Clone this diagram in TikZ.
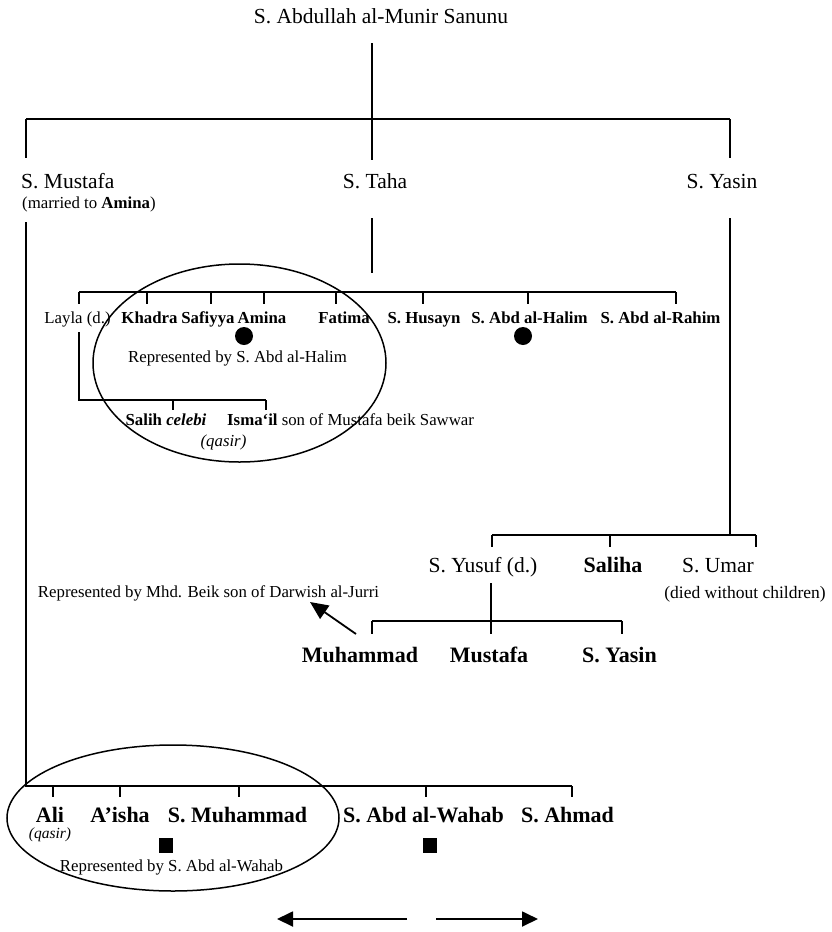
\documentclass[tikz,border=0pt]{standalone}
\usepackage{fontspec}
\setmainfont{Liberation Serif}
\usetikzlibrary{arrows.meta}
\begin{document}
\begin{tikzpicture}[x=1pt,y=-1pt,
  txt/.style={inner sep=0pt,anchor=base},
  big/.style={txt,font=\fontsize{21.5}{24}\selectfont},
  bigb/.style={txt,font=\fontsize{22}{24}\selectfont\bfseries},
  sm/.style={txt,font=\fontsize{16.8}{19}\selectfont},
  smb/.style={txt,font=\fontsize{16.8}{19}\selectfont\bfseries},
  smi/.style={txt,font=\fontsize{16.8}{19}\selectfont\itshape},
  ln/.style={line width=1.8pt},
  tk/.style={line width=1.6pt},
  ov/.style={line width=1.5pt},
  dot/.style={circle,fill=black,inner sep=0pt,minimum size=18pt},
  sq/.style={rectangle,fill=black,inner sep=0pt,minimum width=14pt,minimum height=15pt},
  bigarrow/.style={line width=1.8pt,-{Triangle[length=16pt,width=15pt]}},
  diagarrow/.style={line width=1.8pt,-{Triangle[length=18pt,width=16pt]}}
]
\useasboundingbox (0,0) rectangle (831,932);

% ---- texts ----
\node[big] (root) at (381,23) {S. Abdullah al-Munir Sanunu};
\node[big,anchor=base west] (mus) at (21,188) {S. Mustafa};
\node[sm,anchor=base west] (musn) at (22,208) {(married to \textbf{Amina})};
\node[big] (taha) at (375,188) {S. Taha};
\node[big] (yas) at (722,188) {S. Yasin};

\node[sm] (layla) at (77.5,323) {Layla (d.)};
\node[smb] (khadra) at (149.5,323) {Khadra};
\node[smb] (safiyya) at (208,323) {Safiyya};
\node[smb] (amina) at (262,323) {Amina};
\node[smb] (fatima) at (344,323) {Fatima};
\node[smb] (husayn) at (424,323) {S. Husayn};
\node[smb] (halim) at (529.5,323) {S. Abd al-Halim};
\node[smb] (rahim) at (660.5,323) {S. Abd al-Rahim};
\node[sm] (rep1) at (237.5,362) {Represented by S. Abd al-Halim};
\node[smb] (salih) at (166,425) {Salih \textit{celebi}};
\node[sm,anchor=base west] (ismail) at (227,425) {\textbf{Isma‘il} son of Mustafa beik Sawwar};
\node[smi] (qasira) at (223.5,446) {(qasir)};

\node[big] (yusuf) at (483,572) {S. Yusuf (d.)};
\node[bigb] (saliha) at (613,572) {Saliha};
\node[big] (umar) at (718,572) {S. Umar};
\node[sm,font=\fontsize{17.5}{19}\selectfont] (umarn) at (745,598) {(died without children)};
\node[sm] (rep2) at (208.5,597) {Represented by Mhd. Beik son of Darwish al-Jurri};
\node[bigb] (muhammad) at (360,662) {Muhammad};
\node[bigb] (mustafa) at (489,662) {Mustafa};
\node[bigb] (yasin2) at (619.5,662) {S. Yasin};

\node[bigb] (ali) at (50,822) {Ali};
\node[smi,font=\fontsize{15.5}{17}\selectfont\itshape] (qasirb) at (50,838) {(qasir)};
\node[bigb] (aisha) at (120,822) {A’isha};
\node[bigb] (smuh) at (237.5,822) {S. Muhammad};
\node[bigb] (wahab) at (423.5,822) {S. Abd al-Wahab};
\node[bigb] (ahmad) at (567.5,822) {S. Ahmad};
\node[sm] (rep3) at (171.5,871) {Represented by S. Abd al-Wahab};

% ---- markers ----
\node[dot] (dota) at (244,336) {};
\node[dot] (dotb) at (523,336) {};
\node[sq] (sqa) at (166,845) {};
\node[sq] (sqb) at (430,845) {};

% ---- ellipses ----
\draw[ov] (239.5,363) ellipse [x radius=146.5, y radius=99];
\draw[ov] (173,818) ellipse [x radius=166, y radius=73];

% ---- top level ----
\coordinate (r0) at (372,43);
\coordinate (r1) at (372,160);
\coordinate (bl) at (26,119);
\coordinate (br) at (730,119);
\draw[ln] (r0) -- (r1);
\draw[ln] (bl) -- (br);
\draw[ln] (bl) -- (26,158);
\draw[ln] (br) -- (730,158);

% ---- Taha branch ----
\coordinate (t0) at (372,218);
\coordinate (t1) at (372,273);
\draw[ln] (t0) -- (t1);
\coordinate (tl) at (79,292);
\coordinate (tr) at (676,292);
\draw[ln] (tl) -- (tr);
\foreach \x in {79,147,211,264,336,423,528,676}
  \draw[tk] (\x,292) -- (\x,304);
\coordinate (ly0) at (79,332);
\coordinate (ly1) at (79,400);
\coordinate (ly2) at (266,400);
\draw[ln] (ly0) -- (ly1) -- (ly2);
\foreach \x in {173,266}
  \draw[tk] (\x,400) -- (\x,410);

% ---- Yasin branch ----
\coordinate (y0) at (730,218);
\coordinate (y1) at (730,535);
\draw[ln] (y0) -- (y1);
\coordinate (yl) at (492,535);
\coordinate (yr) at (756,535);
\draw[ln] (yl) -- (yr);
\foreach \x in {492,610,756}
  \draw[tk] (\x,535) -- (\x,547);
\coordinate (u0) at (491,583);
\coordinate (u1) at (491,634);
\draw[ln] (u0) -- (u1);
\coordinate (ul) at (372,621);
\coordinate (ur) at (622,621);
\draw[ln] (ul) -- (ur);
\foreach \x in {372,622}
  \draw[tk] (\x,621) -- (\x,634);
\coordinate (ar0) at (356,634);
\coordinate (ar1) at (310,602);
\draw[diagarrow] (ar0) -- (ar1);

% ---- Mustafa branch ----
\coordinate (m0) at (26,222);
\coordinate (m1) at (26,786);
\coordinate (mr) at (572,786);
\draw[ln] (m0) -- (m1) -- (mr);
\foreach \x in {53,120,239,426,572}
  \draw[tk] (\x,786) -- (\x,797);

% ---- bottom arrows ----
\coordinate (la0) at (407,919);
\coordinate (la1) at (277,919);
\coordinate (ra0) at (436,919);
\coordinate (ra1) at (538,919);
\draw[bigarrow] (la0) -- (la1);
\draw[bigarrow] (ra0) -- (ra1);
\end{tikzpicture}
\end{document}
